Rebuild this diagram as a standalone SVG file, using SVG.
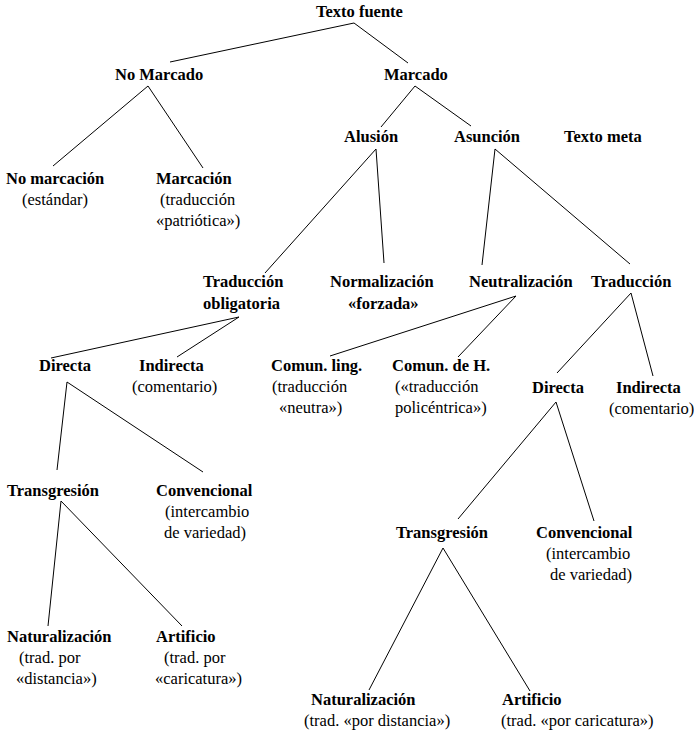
<svg xmlns="http://www.w3.org/2000/svg" width="694" height="734" viewBox="0 0 694 734">
<style>
.b{font-weight:bold}
.e line{stroke:#000;stroke-width:1}
</style>
<rect width="694" height="734" fill="#fff"/>
<g class="e" id="connectors">
<line x1="354" y1="23" x2="170" y2="62"/>
<line x1="354" y1="23" x2="408" y2="63"/>
<line x1="148" y1="86" x2="53" y2="166"/>
<line x1="148" y1="86" x2="203" y2="168"/>
<line x1="415" y1="86" x2="381" y2="127"/>
<line x1="415" y1="86" x2="471" y2="126"/>
<line x1="376" y1="149" x2="265" y2="273"/>
<line x1="376" y1="149" x2="384" y2="263"/>
<line x1="495" y1="149" x2="482" y2="265"/>
<line x1="495" y1="149" x2="630" y2="264"/>
<line x1="239" y1="317" x2="51" y2="358"/>
<line x1="239" y1="317" x2="177" y2="357"/>
<line x1="516" y1="296" x2="330" y2="356"/>
<line x1="516" y1="296" x2="458" y2="357"/>
<line x1="631" y1="293" x2="557" y2="373"/>
<line x1="631" y1="293" x2="653" y2="376"/>
<line x1="67" y1="382" x2="57" y2="470"/>
<line x1="67" y1="382" x2="203" y2="472"/>
<line x1="556" y1="402" x2="458" y2="519"/>
<line x1="556" y1="402" x2="594" y2="521"/>
<line x1="61" y1="501" x2="48" y2="626"/>
<line x1="61" y1="501" x2="182" y2="626"/>
<line x1="443" y1="548" x2="369" y2="690"/>
<line x1="443" y1="548" x2="530" y2="691"/>
</g>
<g id="texto-fuente"><text font-family="Liberation Serif" font-size="16.5" class="b" x="316" y="17">Texto fuente</text></g>
<g id="no-marcado"><text font-family="Liberation Serif" font-size="16.5" class="b" x="115" y="80">No Marcado</text></g>
<g id="marcado"><text font-family="Liberation Serif" font-size="16.5" class="b" x="384" y="80">Marcado</text></g>
<g id="alusion"><text font-family="Liberation Serif" font-size="16.5" class="b" x="344" y="142">Alusión</text></g>
<g id="asuncion"><text font-family="Liberation Serif" font-size="16.5" class="b" x="454" y="142">Asunción</text></g>
<g id="texto-meta"><text font-family="Liberation Serif" font-size="16.5" class="b" x="564" y="142">Texto meta</text></g>
<g id="no-marcacion"><text font-family="Liberation Serif" font-size="16.5" class="b" x="6" y="184">No marcación</text><text font-family="Liberation Serif" font-size="16.5" x="22" y="205">(estándar)</text></g>
<g id="marcacion"><text font-family="Liberation Serif" font-size="16.5" class="b" x="156" y="184">Marcación</text><text font-family="Liberation Serif" font-size="16.5" x="160" y="205">(traducción</text><text font-family="Liberation Serif" font-size="16.5" x="156" y="226">«patriótica»)</text></g>
<g id="traduccion-obligatoria"><text font-family="Liberation Serif" font-size="16.5" class="b" x="203" y="287">Traducción</text><text font-family="Liberation Serif" font-size="16.5" class="b" x="203" y="309">obligatoria</text></g>
<g id="normalizacion"><text font-family="Liberation Serif" font-size="16.5" class="b" x="330" y="287">Normalización</text><text font-family="Liberation Serif" font-size="16.5" class="b" x="348" y="309">«forzada»</text></g>
<g id="neutralizacion"><text font-family="Liberation Serif" font-size="16.5" class="b" x="469" y="287">Neutralización</text></g>
<g id="traduccion"><text font-family="Liberation Serif" font-size="16.5" class="b" x="591" y="287">Traducción</text></g>
<g id="directa-1"><text font-family="Liberation Serif" font-size="16.5" class="b" x="39" y="371">Directa</text></g>
<g id="indirecta-1"><text font-family="Liberation Serif" font-size="16.5" class="b" x="139" y="371">Indirecta</text><text font-family="Liberation Serif" font-size="16.5" x="132" y="392">(comentario)</text></g>
<g id="comun-ling"><text font-family="Liberation Serif" font-size="16.5" class="b" x="271" y="371">Comun. ling.</text><text font-family="Liberation Serif" font-size="16.5" x="272" y="392">(traducción</text><text font-family="Liberation Serif" font-size="16.5" x="279" y="413">«neutra»)</text></g>
<g id="comun-h"><text font-family="Liberation Serif" font-size="16.5" class="b" x="392" y="371">Comun. de H.</text><text font-family="Liberation Serif" font-size="16.5" x="395" y="392">(«traducción</text><text font-family="Liberation Serif" font-size="16.5" x="395" y="413">policéntrica»)</text></g>
<g id="directa-2"><text font-family="Liberation Serif" font-size="16.5" class="b" x="532" y="393">Directa</text></g>
<g id="indirecta-2"><text font-family="Liberation Serif" font-size="16.5" class="b" x="616" y="393">Indirecta</text><text font-family="Liberation Serif" font-size="16.5" x="609" y="414">(comentario)</text></g>
<g id="transgresion-1"><text font-family="Liberation Serif" font-size="16.5" class="b" x="7" y="496">Transgresión</text></g>
<g id="convencional-1"><text font-family="Liberation Serif" font-size="16.5" class="b" x="156" y="496">Convencional</text><text font-family="Liberation Serif" font-size="16.5" x="165" y="517">(intercambio</text><text font-family="Liberation Serif" font-size="16.5" x="164" y="538">de variedad)</text></g>
<g id="transgresion-2"><text font-family="Liberation Serif" font-size="16.5" class="b" x="396" y="538">Transgresión</text></g>
<g id="convencional-2"><text font-family="Liberation Serif" font-size="16.5" class="b" x="536" y="538">Convencional</text><text font-family="Liberation Serif" font-size="16.5" x="546" y="559">(intercambio</text><text font-family="Liberation Serif" font-size="16.5" x="550" y="580">de variedad)</text></g>
<g id="naturalizacion-1"><text font-family="Liberation Serif" font-size="16.5" class="b" x="7" y="642">Naturalización</text><text font-family="Liberation Serif" font-size="16.5" x="19" y="663">(trad. por</text><text font-family="Liberation Serif" font-size="16.5" x="16" y="684">«distancia»)</text></g>
<g id="artificio-1"><text font-family="Liberation Serif" font-size="16.5" class="b" x="156" y="642">Artificio</text><text font-family="Liberation Serif" font-size="16.5" x="164" y="663">(trad. por</text><text font-family="Liberation Serif" font-size="16.5" x="155" y="684">«caricatura»)</text></g>
<g id="naturalizacion-2"><text font-family="Liberation Serif" font-size="16.5" class="b" x="311" y="705">Naturalización</text><text font-family="Liberation Serif" font-size="16.5" x="304" y="726">(trad. «por distancia»)</text></g>
<g id="artificio-2"><text font-family="Liberation Serif" font-size="16.5" class="b" x="502" y="705">Artificio</text><text font-family="Liberation Serif" font-size="16.5" x="501" y="726">(trad. «por caricatura»)</text></g>
</svg>
